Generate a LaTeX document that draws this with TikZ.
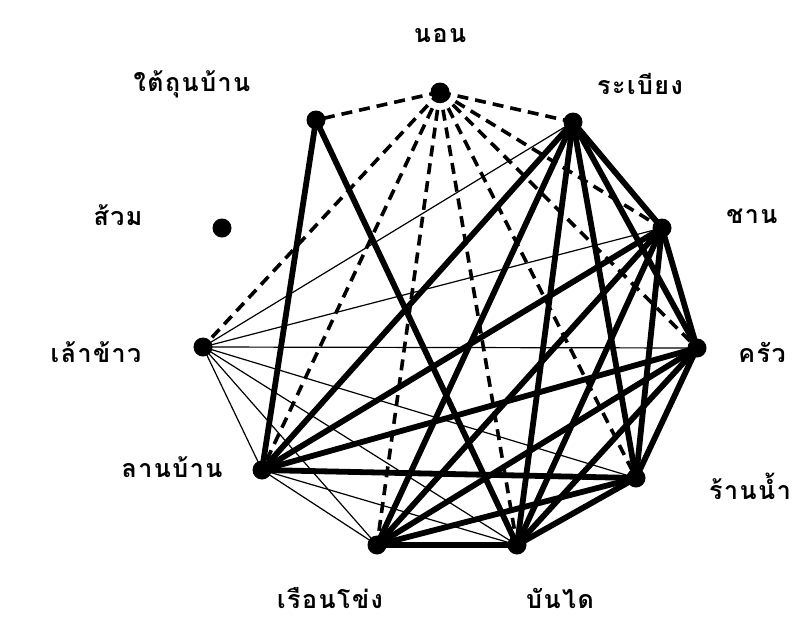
\documentclass[tikz,border=0pt]{standalone}
\usepackage{fontspec}
\newfontfamily\thaifont[Script=Thai,LetterSpace=6]{Loma}
\pgfdeclarelayer{bg}
\pgfdeclarelayer{paper}
\pgfsetlayers{paper,bg,main}
\begin{document}
\begin{tikzpicture}[x=1pt,y=-1pt,
  dot/.style={circle,fill=black,inner sep=0pt,minimum size=19pt},
  lbl/.style={font=\thaifont\bfseries\fontsize{25}{30}\selectfont,inner sep=0pt},
  thickedge/.style={line width=5.8pt,line cap=round},
  thinedge/.style={line width=1.2pt},
  dashedge/.style={line width=3.6pt,dash pattern=on 11pt off 7pt}]
\begin{pgfonlayer}{paper}
\fill[white] (0,0) rectangle (804,622);
\end{pgfonlayer}
\useasboundingbox (0,0) rectangle (804,622);
% nodes
\node[dot] (N) at (440,92) {};
\node[dot] (R) at (573,122) {};
\node[dot] (C) at (662,228) {};
\node[dot] (K) at (697,348) {};
\node[dot] (W) at (636,478) {};
\node[dot] (B) at (517,545) {};
\node[dot] (H) at (377,545) {};
\node[dot] (L) at (262,470) {};
\node[dot] (E) at (203,347) {};
\node[dot] (S) at (222,228) {};
\node[dot] (T) at (316,120) {};
% labels
\node[lbl] (lN) at (440,36) {นอน};
\node[lbl] (lR) at (640,84) {ระเบียง};
\node[lbl] (lC) at (752,216) {ชาน};
\node[lbl] (lK) at (762,352) {ครัว};
\node[lbl] (lW) at (750,486) {ร้านน้ำ};
\node[lbl] (lB) at (560,598) {บันได};
\node[lbl] (lH) at (330,598) {เรือนโข่ง};
\node[lbl] (lL) at (172,467) {ลานบ้าน};
\node[lbl] (lE) at (96,352) {เล้าข้าว};
\node[lbl] (lS) at (118,215) {ส้วม};
\node[lbl] (lT) at (192,84) {ใต้ถุนบ้าน};
\begin{pgfonlayer}{bg}
% dashed from นอน
\foreach \t in {T,R,C,K,W,B,H,L,E}
  \draw[dashedge] (N.center) -- (\t.center);
% thin lines
\foreach \t in {R,C,K,W,B,H,L}
  \draw[thinedge] (E.center) -- (\t.center);
\draw[thinedge] (L.center) -- (H.center);
\draw[thinedge] (L.center) -- (B.center);
% thick lines
\draw[thickedge] (T.center) -- (L.center);
\draw[thickedge] (T.center) -- (B.center);
\foreach \a/\b in {R/C,R/K,R/W,R/B,R/H,R/L,
                   C/K,C/W,C/B,C/H,C/L,
                   K/W,K/B,K/H,K/L,
                   W/B,W/H,W/L,
                   B/H}
  \draw[thickedge] (\a.center) -- (\b.center);
\end{pgfonlayer}
\end{tikzpicture}
\end{document}
